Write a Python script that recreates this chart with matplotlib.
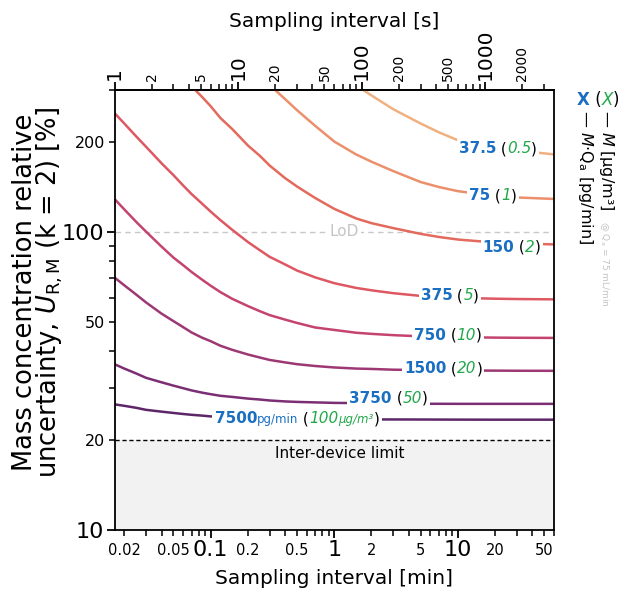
import numpy as np
import matplotlib
matplotlib.use('Agg')
import matplotlib.pyplot as plt
from matplotlib.ticker import FixedLocator, FuncFormatter
from matplotlib.offsetbox import TextArea, HPacker, AnnotationBbox

plt.rcParams['font.family'] = ['DejaVu Sans']
plt.rcParams['mathtext.fontset'] = 'dejavusans'

# sampling interval [min]
t_grid = [1/60, 0.02, 0.025, 0.03, 0.04, 0.05, 0.06, 0.07, 0.085, 0.1, 0.12, 0.15,
          0.2, 0.25, 0.3, 0.4, 0.5, 0.7, 1, 1.5, 2, 3, 5, 7, 10, 20, 30, 60]
t_150 = [0.07, 0.085, 0.1, 0.12, 0.15, 0.2, 0.25, 0.3, 0.4, 0.5, 0.7, 1, 1.5, 2, 3,
         5, 7, 10, 20, 30, 60]
t_75 = [0.3, 0.4, 0.5, 0.7, 1, 1.5, 2, 3, 5, 7, 10, 20, 30, 60]
t_37 = [1.6, 2, 3, 5, 7, 10, 20, 30, 60]

# relative uncertainty U_R,M [%]
u_7500 = [26.4, 26.1, 25.7, 25.3, 24.95, 24.7, 24.5, 24.35, 24.2, 24.05, 23.97, 23.9,
          23.8, 23.75, 23.7, 23.65, 23.6, 23.57, 23.55, 23.52, 23.5, 23.49, 23.48,
          23.47, 23.46, 23.45, 23.45, 23.45]
u_3750 = [36.0, 34.8, 33.5, 32.4, 31.3, 30.5, 29.9, 29.4, 28.9, 28.55, 28.2, 27.95,
          27.6, 27.4, 27.2, 27.0, 26.9, 26.8, 26.7, 26.65, 26.6, 26.55, 26.52, 26.51,
          26.5, 26.5, 26.5, 26.5]
u_1500 = [70.3, 66.2, 61.6, 58.0, 53.2, 50.2, 47.9, 46.0, 44.2, 43.0, 41.5, 40.2,
          38.8, 37.9, 37.2, 36.5, 36.0, 35.5, 35.1, 34.8, 34.7, 34.5, 34.4, 34.34,
          34.3, 34.25, 34.22, 34.2]
u_750 = [129.0, 119.0, 108.0, 100.2, 89.3, 82.0, 77.3, 73.4, 69.2, 66.0, 62.8, 59.6,
         56.4, 54.2, 52.6, 50.8, 49.5, 47.8, 46.9, 45.9, 45.5, 45.05, 44.65, 44.45,
         44.35, 44.2, 44.15, 44.1]
u_375 = [250.5, 231, 209, 193, 170, 155, 143, 134, 124.5, 117, 109.5, 101.5,
         92.5, 86.8, 82.5, 77.8, 74.2, 70.4, 67.3, 64.9, 63.7, 62.3, 61.0, 60.5,
         60.1, 59.7, 59.55, 59.4]
u_150 = [308, 284, 264, 241, 221, 195, 180, 167, 151.5, 142, 130, 119.5, 111, 107,
         103, 98.5, 96.2, 94.3, 92.1, 91.5, 90.8]
u_75 = [311, 279, 256, 227, 201, 182, 172, 160, 147, 141.5, 137, 132, 130.5, 129]
u_37 = [305, 287, 258, 231, 216, 203, 192, 187.5, 182]

curves_t = [t_37, t_75, t_150, t_grid, t_grid, t_grid, t_grid, t_grid]
curves_u = [u_37, u_75, u_150, u_375, u_750, u_1500, u_3750, u_7500]

conc_pg = ['37.5', '75', '150', '375', '750', '1500', '3750', '7500']
conc_ug = ['0.5', '1', '2', '5', '10', '20', '50', '100']
label_pos = [(21.1, 190), (19.2, 132), (27.3, 89), (8.6, 61), (8.3, 45.1),
             (7.6, 34.7), (2.75, 27.7), (0.5, 23.6)]

colors = ['#f0b080', '#eb8f6c', '#e36a5c', '#dd5862', '#c4446e', '#9e3874',
          '#7c2e74', '#5c2668']
blue = '#1a6fc2'
green = '#22a84a'

lod = 100
inter_device = 20

fig = plt.figure(figsize=(6.19, 5.92), dpi=100)
ax = fig.add_axes([0.185, 0.1047, 0.71, 0.7438])

ax.axhspan(10, inter_device, color='#f2f2f2', zorder=0, lw=0)
ax.axhline(inter_device, color='black', ls=(0, (3, 2)), lw=1, zorder=1)
ax.axhline(lod, color='#c8c8c8', ls=(0, (4, 3)), lw=1, zorder=1)
ax.text(1.21, lod, 'LoD', color='#c4c4c4', fontsize=11, ha='center', va='center',
        zorder=3, bbox=dict(fc='white', ec='none', pad=1.5))
ax.text(1.11, 18.1, 'Inter-device limit', fontsize=11, ha='center', va='center')

for t, u, c in zip(curves_t, curves_u, colors):
    ax.plot(t, u, color=c, lw=1.8, zorder=2, solid_capstyle='butt')


def multi_label(parts, xy, xycoords='data', pad=0.15):
    boxes = []
    for s, c, fs, w, st in parts:
        boxes.append(TextArea(s, textprops=dict(color=c, fontsize=fs, fontweight=w,
                                                fontstyle=st)))
    pack = HPacker(children=boxes, align='baseline', pad=0, sep=0)
    ab = AnnotationBbox(pack, xy, xycoords=xycoords, frameon=True,
                        box_alignment=(0.5, 0.5), pad=pad, zorder=4,
                        bboxprops=dict(facecolor='white', edgecolor='none'))
    if xycoords == 'figure pixels':
        fig.add_artist(ab)
    else:
        ax.add_artist(ab)


fs_lab = 11
for i, (pg, ug) in enumerate(zip(conc_pg, conc_ug)):
    if pg == '7500':
        parts = [(pg, blue, fs_lab, 'bold', 'normal'),
                 ('pg/min', blue, 8.5, 'normal', 'normal'),
                 (' (', 'black', fs_lab, 'normal', 'normal'),
                 (ug, green, fs_lab, 'normal', 'italic'),
                 ('µg/m³', green, 8.5, 'normal', 'italic'),
                 (')', 'black', fs_lab, 'normal', 'normal')]
    else:
        parts = [(pg, blue, fs_lab, 'bold', 'normal'),
                 (' (', 'black', fs_lab, 'normal', 'normal'),
                 (ug, green, fs_lab, 'normal', 'italic'),
                 (')', 'black', fs_lab, 'normal', 'normal')]
    multi_label(parts, label_pos[i])

# axes
ax.set_xscale('log')
ax.set_yscale('log')
ax.set_xlim(1/60, 60)
ax.set_ylim(10, 300)

x_major = [0.1, 1, 10]
x_minor = [0.02, 0.03, 0.04, 0.05, 0.06, 0.07, 0.08, 0.09,
           0.2, 0.3, 0.4, 0.5, 0.6, 0.7, 0.8, 0.9,
           2, 3, 4, 5, 6, 7, 8, 9, 20, 30, 40, 50, 60]
x_minor_lab = [0.02, 0.05, 0.2, 0.5, 2, 5, 20, 50]
y_major = [10, 100]
y_minor = [20, 30, 40, 50, 60, 70, 80, 90, 200, 300]
y_minor_lab = [20, 50, 200]
s_major = [1, 10, 100, 1000]
s_minor = [2, 3, 4, 5, 6, 7, 8, 9, 20, 30, 40, 50, 60, 70, 80, 90,
           200, 300, 400, 500, 600, 700, 800, 900, 2000, 3000]
s_minor_lab = [2, 5, 20, 50, 200, 500, 2000]


def lab_fmt(keep):
    return FuncFormatter(lambda v, p: f'{v:g}' if any(abs(v - k) < 1e-9 * max(k, 1) for k in keep) else '')


ax.xaxis.set_major_locator(FixedLocator(x_major))
ax.xaxis.set_major_formatter(FuncFormatter(lambda v, p: f'{v:g}'))
ax.xaxis.set_minor_locator(FixedLocator(x_minor))
ax.xaxis.set_minor_formatter(lab_fmt(x_minor_lab))
ax.yaxis.set_major_locator(FixedLocator(y_major))
ax.yaxis.set_major_formatter(FuncFormatter(lambda v, p: f'{v:g}'))
ax.yaxis.set_minor_locator(FixedLocator(y_minor))
ax.yaxis.set_minor_formatter(lab_fmt(y_minor_lab))

ax.tick_params(which='major', direction='out', length=6, width=1.3, labelsize=16, pad=1.5)
ax.tick_params(which='minor', direction='out', length=4, width=1.1, pad=2.5)
ax.tick_params(axis='x', which='minor', labelsize=10.5, pad=5)
ax.tick_params(axis='y', which='minor', labelsize=11.5)
for sp in ax.spines.values():
    sp.set_linewidth(1.3)

secax = ax.secondary_xaxis('top', functions=(lambda m: m * 60, lambda s: s / 60))
secax.xaxis.set_major_locator(FixedLocator(s_major))
secax.xaxis.set_major_formatter(FuncFormatter(lambda v, p: f'{v:g}'))
secax.xaxis.set_minor_locator(FixedLocator(s_minor))
secax.xaxis.set_minor_formatter(lab_fmt(s_minor_lab))
secax.tick_params(which='major', direction='out', length=6, width=1.3, labelsize=14.5,
                  labelrotation=90, pad=1)
secax.tick_params(which='minor', direction='out', length=4, width=1.1, labelsize=10,
                  labelrotation=90, pad=2.5)
secax.spines['top'].set_linewidth(1.3)
secax.set_xlabel('Sampling interval [s]', fontsize=14.5, labelpad=1)

ax.set_xlabel('Sampling interval [min]', fontsize=14.5, labelpad=6)
ax.set_ylabel('Mass concentration relative\nuncertainty, $U_\\mathrm{R,M}$ (k = 2) [%]',
              fontsize=18.5, linespacing=0.85)
ax.yaxis.set_label_coords(-0.113, 0.54)

# right-hand legend
multi_label([('X', blue, 12, 'bold', 'normal'),
             (' (', 'black', 12, 'normal', 'normal'),
             ('X', green, 12, 'normal', 'italic'),
             (')', 'black', 12, 'normal', 'normal')],
            (598, 492), xycoords='figure pixels', pad=0)
fig.text(602 / 619, 482 / 592, '— $M$ [µg/m³]', rotation=-90, rotation_mode='anchor',
         ha='left', va='baseline', fontsize=11.5)
fig.text(581 / 619, 482 / 592, '— $M$·Q$_\\mathrm{a}$ [pg/min]', rotation=-90,
         rotation_mode='anchor', ha='left', va='baseline', fontsize=11.5)
fig.text(602 / 619, 371 / 592, '@ Q$_\\mathrm{a}$ = 75 mL/min', rotation=-90,
         rotation_mode='anchor', ha='left', va='baseline', fontsize=6.5, color='#c4c4c4')

fig.savefig('out.png', dpi=100)
